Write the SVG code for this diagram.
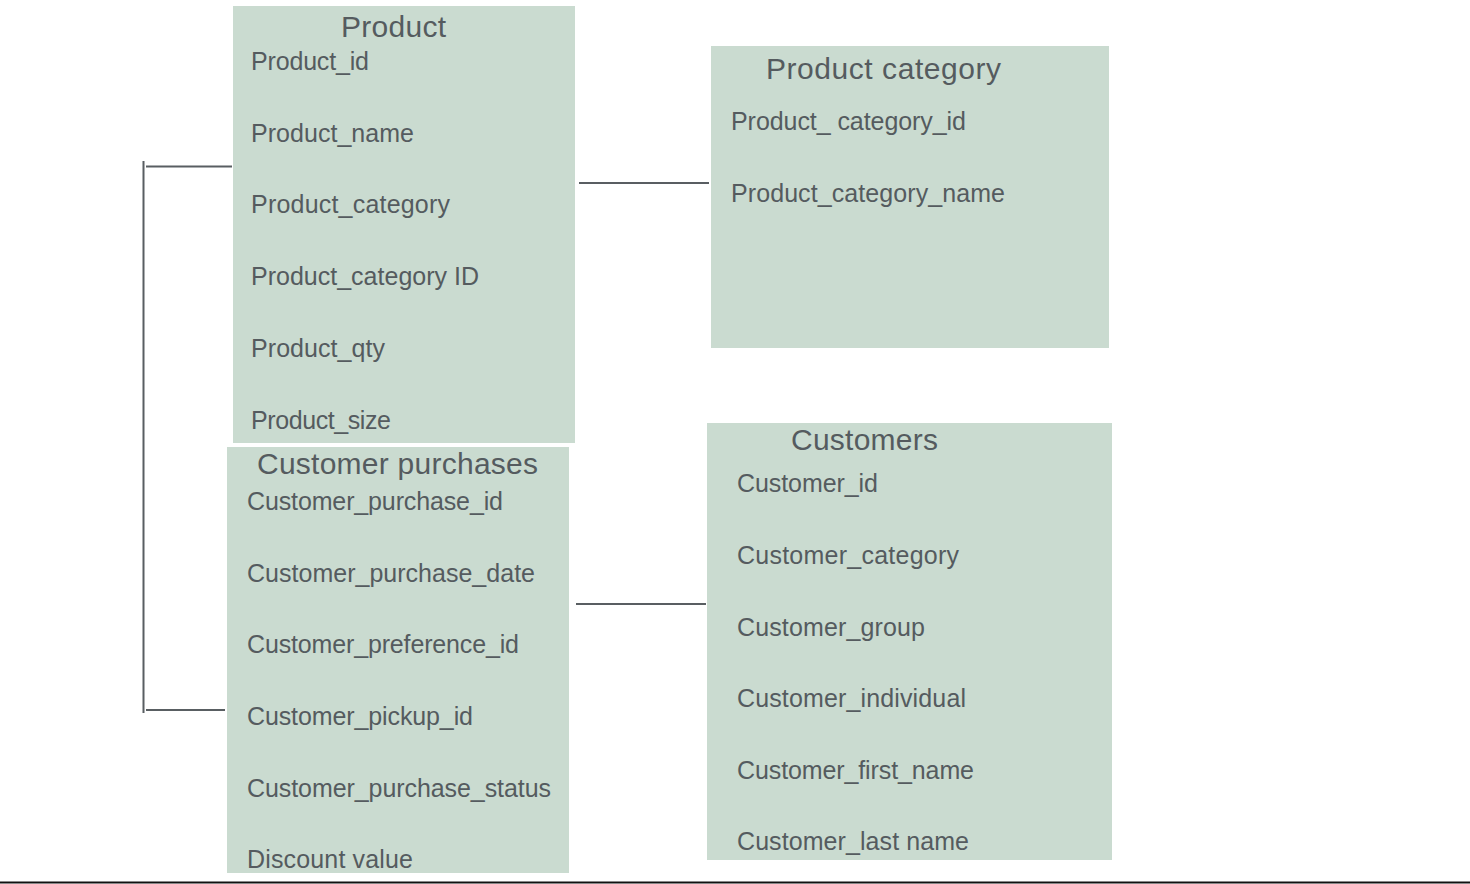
<svg xmlns="http://www.w3.org/2000/svg" width="1470" height="884" viewBox="0 0 1470 884">
  <style>
    .box { fill: #cadbd0; }
    .title { font-family: "Liberation Sans", Arial, sans-serif; font-size: 30px; fill: #555b5f; }
    .field { font-family: "Liberation Sans", Arial, sans-serif; font-size: 25px; fill: #555b5f; }
    .conn { stroke: #595e62; stroke-width: 2; fill: none; }
  </style>
  <rect x="0" y="0" width="1470" height="884" fill="#ffffff"/>

  <g id="product">
    <rect class="box" x="233" y="6" width="342" height="437"/>
    <text class="title" x="341" y="37" textLength="105">Product</text>
    <text class="field" x="251" y="70" textLength="118">Product_id</text>
    <text class="field" x="251" y="142" textLength="163">Product_name</text>
    <text class="field" x="251" y="213" textLength="199">Product_category</text>
    <text class="field" x="251" y="285" textLength="228">Product_category ID</text>
    <text class="field" x="251" y="357" textLength="134">Product_qty</text>
    <text class="field" x="251" y="429" textLength="140">Product_size</text>
  </g>

  <g id="product-category">
    <rect class="box" x="711" y="46" width="398" height="302"/>
    <text class="title" x="766" y="79" textLength="235">Product category</text>
    <text class="field" x="731" y="130" textLength="235">Product_ category_id</text>
    <text class="field" x="731" y="202" textLength="274">Product_category_name</text>
  </g>

  <g id="customer-purchases">
    <rect class="box" x="227" y="447" width="342" height="426"/>
    <text class="title" x="257" y="474" textLength="281">Customer purchases</text>
    <text class="field" x="247" y="510" textLength="256">Customer_purchase_id</text>
    <text class="field" x="247" y="582" textLength="288">Customer_purchase_date</text>
    <text class="field" x="247" y="653" textLength="272">Customer_preference_id</text>
    <text class="field" x="247" y="725" textLength="226">Customer_pickup_id</text>
    <text class="field" x="247" y="797" textLength="304">Customer_purchase_status</text>
    <text class="field" x="247" y="868" textLength="166">Discount value</text>
  </g>

  <g id="customers">
    <rect class="box" x="707" y="423" width="405" height="437"/>
    <text class="title" x="791" y="450" textLength="147">Customers</text>
    <text class="field" x="737" y="492" textLength="141">Customer_id</text>
    <text class="field" x="737" y="564" textLength="222">Customer_category</text>
    <text class="field" x="737" y="636" textLength="188">Customer_group</text>
    <text class="field" x="737" y="707" textLength="229">Customer_individual</text>
    <text class="field" x="737" y="779" textLength="237">Customer_first_name</text>
    <text class="field" x="737" y="850" textLength="232">Customer_last name</text>
  </g>

  <g id="connectors">
    <line class="conn" x1="579" y1="183" x2="709" y2="183"/>
    <line class="conn" x1="576" y1="604" x2="706" y2="604"/>
    <line class="conn" x1="143.5" y1="161" x2="143.5" y2="713"/>
    <line class="conn" x1="146" y1="166.5" x2="232" y2="166.5"/>
    <line class="conn" x1="146" y1="710" x2="225" y2="710"/>
  </g>

  <line x1="0" y1="882.5" x2="1470" y2="882.5" stroke="#111111" stroke-width="2"/>
</svg>
